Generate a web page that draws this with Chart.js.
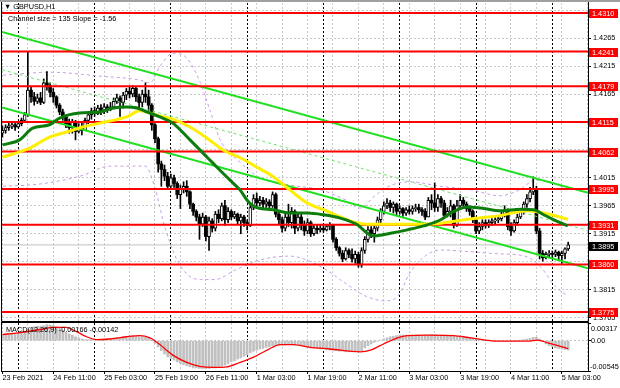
<!DOCTYPE html>
<html><head><meta charset="utf-8">
<script src="https://cdn.jsdelivr.net/npm/chart.js@4/dist/chart.umd.min.js"></script>
<style>
html,body{margin:0;padding:0;background:#fff;}
body{width:620px;height:388px;overflow:hidden;position:relative;}
#c1{position:absolute;left:0;top:0;}
#c2{position:absolute;left:0;top:321px;}
</style></head>
<body>
<canvas id="c1" width="620" height="322"></canvas>
<canvas id="c2" width="620" height="67"></canvas>
<script>
// ---------------- DATA ----------------
const symbolTitle = '\u25BC GBPUSD,H1';
const channelText = 'Channel size = 135 Slope = -1.56';
const macdTitle = 'MACD(12,26,9) -0.00166 -0.00142';
const priceLevels = [1.4310,1.4241,1.4179,1.4115,1.4062,1.3995,1.3931,1.3860,1.3775];
const bidPrice = 1.3895;
const yTicks = [1.4315,1.4265,1.4215,1.4165,1.4115,1.4065,1.4015,1.3965,1.3915,1.3865,1.3815,1.3765];
const hiddenTicks = [1.4315,1.4115,1.4065,1.3865];
const timeLabels = ['23 Feb 2021','24 Feb 11:00','25 Feb 03:00','25 Feb 19:00','26 Feb 11:00','1 Mar 03:00','1 Mar 19:00','2 Mar 11:00','3 Mar 03:00','3 Mar 19:00','4 Mar 11:00','5 Mar 03:00'];
const labelBars = [0,16,32,48,64,80,96,112,128,144,160,176];
const gridBars = [0,8,16,24,32,40,48,56,64,72,80,88,96,104,112,120,128,136,144,152,160,168,176,184];
const daySeparatorBars = [5,29,53,77,101,125,149,173];
const macdTicks = [0.00317,0,-0.00545];
const macdTickLabels = ['0.00317','0.00','-0.00545'];

const firstOpen = 1.4095;
const closes = [1.4100,1.4105,1.4108,1.4110,1.4106,1.4112,1.4118,1.4128,1.4172,1.4160,
 1.4152,1.4158,1.4150,1.4185,1.4180,1.4168,1.4160,1.4145,1.4133,1.4125,
 1.4112,1.4105,1.4115,1.4098,1.4105,1.4100,1.4118,1.4128,1.4135,1.4130,
 1.4140,1.4135,1.4142,1.4138,1.4142,1.4152,1.4158,1.4150,1.4163,1.4170,
 1.4165,1.4175,1.4160,1.4150,1.4165,1.4160,1.4145,1.4110,1.4085,1.4040,
 1.4030,1.4018,1.4000,1.4015,1.4005,1.3985,1.3995,1.4000,1.3990,1.3968,
 1.3955,1.3945,1.3932,1.3945,1.3910,1.3938,1.3925,1.3950,1.3942,1.3965,
 1.3940,1.3955,1.3945,1.3950,1.3938,1.3945,1.3935,1.3930,1.3962,1.3978,
 1.3970,1.3975,1.3968,1.3972,1.3965,1.3985,1.3950,1.3940,1.3925,1.3945,
 1.3935,1.3955,1.3925,1.3945,1.3930,1.3920,1.3935,1.3915,1.3925,1.3922,
 1.3925,1.3922,1.3928,1.3930,1.3905,1.3890,1.3880,1.3870,1.3885,1.3878,
 1.3870,1.3878,1.3860,1.3885,1.3905,1.3922,1.3915,1.3925,1.3940,1.3955,
 1.3965,1.3970,1.3962,1.3968,1.3955,1.3960,1.3952,1.3958,1.3955,1.3960,
 1.3962,1.3958,1.3955,1.3945,1.3975,1.3970,1.3962,1.3978,1.3970,1.3948,
 1.3955,1.3965,1.3930,1.3965,1.3975,1.3968,1.3960,1.3955,1.3940,1.3920,
 1.3928,1.3935,1.3930,1.3935,1.3938,1.3940,1.3942,1.3950,1.3958,1.3928,
 1.3920,1.3935,1.3945,1.3955,1.3968,1.3978,1.3990,1.3995,1.3920,1.3880,
 1.3872,1.3878,1.3880,1.3878,1.3882,1.3876,1.3880,1.3888,1.3895];
const highs = [1.4108,1.4110,1.4113,1.4115,1.4114,1.4116,1.4122,1.4132,1.4240,1.4178,
 1.4168,1.4165,1.4168,1.4192,1.4205,1.4185,1.4175,1.4162,1.4148,1.4138,
 1.4128,1.4120,1.4120,1.4118,1.4112,1.4115,1.4122,1.4132,1.4140,1.4142,
 1.4145,1.4146,1.4148,1.4146,1.4150,1.4158,1.4165,1.4162,1.4168,1.4175,
 1.4178,1.4180,1.4178,1.4165,1.4172,1.4185,1.4172,1.4148,1.4112,1.4088,
 1.4045,1.4038,1.4025,1.4022,1.4020,1.4008,1.4002,1.4008,1.4010,1.3992,
 1.3970,1.3958,1.3950,1.3952,1.3948,1.3945,1.3942,1.3955,1.3958,1.3970,
 1.3975,1.3962,1.3958,1.3955,1.3952,1.3950,1.3948,1.3940,1.3968,1.3985,
 1.3988,1.3982,1.3980,1.3978,1.3976,1.3990,1.3988,1.3955,1.3945,1.3950,
 1.3968,1.3962,1.3958,1.3952,1.3950,1.3938,1.3942,1.3938,1.3930,1.3930,
 1.3932,1.3930,1.3932,1.3935,1.3932,1.3908,1.3892,1.3885,1.3890,1.3888,
 1.3888,1.3884,1.3882,1.3890,1.3910,1.3928,1.3928,1.3930,1.3945,1.3960,
 1.3972,1.3978,1.3975,1.3972,1.3970,1.3965,1.3962,1.3962,1.3965,1.3965,
 1.3968,1.3968,1.3962,1.3960,1.3980,1.3985,1.4006,1.3985,1.3982,1.3975,
 1.3962,1.3975,1.3968,1.3975,1.3985,1.3980,1.3972,1.3965,1.3958,1.3945,
 1.3935,1.3940,1.3940,1.3940,1.3942,1.3946,1.3948,1.3955,1.3965,1.3960,
 1.3935,1.3940,1.3950,1.3960,1.3972,1.3985,1.3998,1.4017,1.4000,1.3925,
 1.3885,1.3882,1.3885,1.3884,1.3886,1.3884,1.3884,1.3890,1.3900];
const lows = [1.4088,1.4095,1.4100,1.4103,1.4100,1.4104,1.4108,1.4115,1.4125,1.4150,
 1.4145,1.4148,1.4146,1.4148,1.4172,1.4160,1.4150,1.4140,1.4128,1.4118,
 1.4105,1.4095,1.4095,1.4083,1.4095,1.4092,1.4100,1.4112,1.4120,1.4125,
 1.4128,1.4128,1.4130,1.4132,1.4135,1.4138,1.4148,1.4125,1.4140,1.4155,
 1.4158,1.4160,1.4152,1.4138,1.4142,1.4150,1.4135,1.4100,1.4078,1.4025,
 1.4000,1.4010,1.3995,1.3998,1.3998,1.3978,1.3960,1.3988,1.3982,1.3960,
 1.3948,1.3938,1.3905,1.3928,1.3902,1.3885,1.3918,1.3920,1.3935,1.3938,
 1.3930,1.3935,1.3940,1.3942,1.3932,1.3915,1.3928,1.3922,1.3928,1.3958,
 1.3965,1.3965,1.3960,1.3962,1.3958,1.3962,1.3945,1.3932,1.3918,1.3920,
 1.3928,1.3925,1.3915,1.3920,1.3922,1.3912,1.3915,1.3910,1.3912,1.3915,
 1.3918,1.3918,1.3920,1.3922,1.3900,1.3885,1.3875,1.3865,1.3868,1.3872,
 1.3864,1.3862,1.3855,1.3855,1.3880,1.3900,1.3908,1.3900,1.3920,1.3935,
 1.3950,1.3960,1.3955,1.3952,1.3948,1.3950,1.3946,1.3948,1.3950,1.3950,
 1.3955,1.3952,1.3948,1.3940,1.3945,1.3958,1.3955,1.3955,1.3962,1.3942,
 1.3945,1.3945,1.3925,1.3928,1.3960,1.3962,1.3955,1.3948,1.3935,1.3915,
 1.3915,1.3922,1.3925,1.3926,1.3930,1.3932,1.3935,1.3938,1.3945,1.3922,
 1.3912,1.3918,1.3930,1.3942,1.3950,1.3962,1.3972,1.3985,1.3915,1.3870,
 1.3866,1.3870,1.3872,1.3872,1.3874,1.3868,1.3862,1.3870,1.3885];

// moving averages as [bar, price]
const maGreen = [[0,1.4074],[5.4,1.4083],[9.5,1.4104],[14.8,1.4110],[18,1.4122],[24.3,1.4131],[30.6,1.4133],[34.7,1.4140],[39.1,1.4142],[42.3,1.4140],[45.4,1.4133],[49.5,1.4124],[53.6,1.4113],[59,1.4083],[64.4,1.4052],[67.5,1.4034],[71.6,1.4011],[74.8,1.3993],[77,1.3975],[78.5,1.3966],[80.5,1.3961],[85.2,1.3958],[90.5,1.3952],[95.9,1.3952],[101,1.3949],[106.3,1.3943],[111.7,1.3931],[114.8,1.3916],[116.7,1.3911],[122.1,1.3916],[127.4,1.3922],[132.5,1.3929],[137.9,1.3940],[141,1.3952],[146.4,1.3963],[150.5,1.3961],[156.8,1.3956],[163.1,1.3959],[167.2,1.3958],[170.3,1.3949],[173.5,1.3940],[177.9,1.3929]];
const maYellow = [[0,1.4052],[8.5,1.4068],[14.8,1.4088],[20.2,1.4097],[25.2,1.4106],[30.6,1.4113],[39.1,1.4124],[43.2,1.4135],[46.4,1.4131],[49.5,1.4126],[53.6,1.4120],[59,1.4106],[64.4,1.4086],[69.4,1.4065],[74.8,1.4051],[80.1,1.4034],[85.2,1.4017],[90.5,1.3993],[95.9,1.3970],[101,1.3958],[106.3,1.3945],[110.4,1.3936],[114.8,1.3932],[122.1,1.3932],[132.5,1.3932],[137.9,1.3934],[146.4,1.3941],[155.8,1.3947],[165.3,1.3956],[168.5,1.3954],[172.6,1.3949],[177.9,1.3941]];
// envelope bands (purple dashed)
const bandUpper = [[0.2,1.4199],[15,1.4204],[30.7,1.4197],[43.3,1.4190],[46.4,1.4185],[49.6,1.4215],[53.7,1.4238],[58.1,1.4229],[62.2,1.4186],[65.3,1.4136],[68.5,1.4083],[74.8,1.4043],[81,1.4015],[90.5,1.4002],[99.9,1.3994],[107.8,1.3976],[112.5,1.3961],[117.2,1.3983],[122,1.4001],[128.2,1.4008],[137.7,1.4000],[147.1,1.3994],[156.5,1.3983],[162.8,1.3994],[167.6,1.4011],[172.3,1.4008],[177.6,1.3994]];
const bandLower = [[0.2,1.4000],[11.8,1.4004],[24.4,1.4018],[34,1.4036],[44.9,1.4036],[48,1.3997],[51.2,1.3925],[55.9,1.3858],[62.2,1.3833],[66.9,1.3833],[73.2,1.3850],[81,1.3868],[90.5,1.3875],[99.9,1.3857],[107.8,1.3827],[114.1,1.3804],[120.4,1.3795],[124.5,1.3804],[128.2,1.3845],[133,1.3875],[137.7,1.3886],[147.1,1.3883],[156.5,1.3879],[164.4,1.3875],[169.1,1.3857],[173.8,1.3822],[177.6,1.3804]];
// regression channel
const channelUpper = [[-0.13,1.4276],[184.23,1.39884]];
const channelMiddle = [[-0.13,1.42085],[184.23,1.39209]];
const channelLower = [[-0.13,1.4141],[184.23,1.38534]];

// MACD
const macdMain = [0.0010,0.0011,0.0011,0.0012,0.0012,0.0013,0.0014,0.0015,0.0020,0.0023,
 0.0025,0.0026,0.0026,0.0027,0.0029,0.0028,0.0027,0.0025,0.0022,0.0019,
 0.0015,0.0012,0.0010,0.0007,0.0005,0.0003,0.0002,0.0002,0.0002,0.0002,
 0.0002,0.0002,0.0003,0.0003,0.0004,0.0005,0.0006,0.0006,0.0007,0.0008,
 0.0008,0.0009,0.0008,0.0007,0.0007,0.0006,0.0004,0.0000,-0.0005,-0.0011,
 -0.0018,-0.0024,-0.0029,-0.0032,-0.0035,-0.0038,-0.0041,-0.0043,-0.0045,-0.0047,
 -0.0049,-0.0049,-0.0050,-0.0050,-0.0050,-0.0050,-0.0049,-0.0049,-0.0048,-0.0046,
 -0.0044,-0.0041,-0.0038,-0.0036,-0.0033,-0.0031,-0.0028,-0.0026,-0.0022,-0.0019,
 -0.0017,-0.0015,-0.0014,-0.0012,-0.0011,-0.0009,-0.0009,-0.0008,-0.0008,-0.0007,
 -0.0007,-0.0007,-0.0008,-0.0008,-0.0009,-0.0010,-0.0011,-0.0013,-0.0013,-0.0014,
 -0.0015,-0.0015,-0.0016,-0.0017,-0.0017,-0.0018,-0.0019,-0.0019,-0.0020,-0.0020,
 -0.0020,-0.0020,-0.0020,-0.0018,-0.0013,-0.0009,-0.0006,-0.0003,-0.0001,0.0001,
 0.0003,0.0005,0.0007,0.0008,0.0009,0.0010,0.0010,0.0010,0.0010,0.0010,
 0.0010,0.0010,0.0010,0.0010,0.0010,0.0011,0.0011,0.0010,0.0010,0.0010,
 0.0009,0.0009,0.0008,0.0008,0.0008,0.0007,0.0006,0.0005,0.0004,0.0003,
 0.0002,0.0002,0.0001,0.0001,0.0000,0.0000,-0.0001,-0.0001,-0.0001,-0.0001,
 -0.0001,-0.0001,0.0000,0.0001,0.0002,0.0003,0.0004,0.0006,0.0006,0.0003,
 -0.0002,-0.0006,-0.0009,-0.0011,-0.0013,-0.0014,-0.0015,-0.0016,-0.00166];
const macdSignal = [[0,0.0011],[5,0.0014],[12,0.0020],[16,0.0024],[20,0.0024],[23,0.0017],[26.5,0.0007],[29.6,0.0002],[33.7,0.0003],[39,0.0007],[43.2,0.0009],[46.4,0.0005],[49.5,-0.0007],[53.6,-0.0026],[58,-0.0039],[62,-0.0046],[66.2,-0.0048],[70.7,-0.0047],[74.8,-0.0039],[78.9,-0.0030],[83.3,-0.0017],[87.4,-0.0007],[91.5,-0.0007],[96.8,-0.0012],[103,-0.0015],[112.6,-0.0020],[115.8,-0.0017],[119.9,-0.0006],[124.3,0.0005],[127.4,0.0009],[133.7,0.0010],[142,0.0009],[147.3,0.0005],[155.8,-0.0001],[165.3,-0.0001],[168.5,0.0001],[171.6,-0.0004],[178,-0.00142]];

// ---------------- BUILD ----------------
const X_MIN = -0.13, X_MAX = 184.23;
const P_MAX = 1.43279, P_MIN = 1.37589;
const M_MAX = 0.00317, M_MIN = -0.00545;
const FONT = "'Liberation Sans', Arial, sans-serif";
const FS = 7.3;

const opens = closes.map((c,i)=> i===0 ? firstOpen : closes[i-1]);
const wickData = closes.map((c,i)=>({x:i, y:[lows[i], highs[i]]}));
const bullData = [], bearData = [];
closes.forEach((c,i)=>{ const o = opens[i]; (c>=o ? bullData : bearData).push({x:i, y:[o,c]}); });
const pts = a => a.map(p=>({x:p[0], y:p[1]}));
const hline = v => [{x:X_MIN,y:v},{x:X_MAX,y:v}];

function gridAxis(ticks, color, dash){
  return {type:'linear', position:'bottom', min:X_MIN, max:X_MAX, offset:false,
    afterBuildTicks: s=>{ s.ticks = ticks.map(v=>({value:v})); },
    ticks:{display:false}, grid:{color:color, lineWidth:1, drawTicks:false, offset:false},
    border:{display:false, dash:dash},
    afterFit: s=>{ s.height = 0; s.paddingLeft = 0; s.paddingRight = 0; }};
}

const mainDeco = {
  id:'mainDeco',
  afterDraw(chart){
    const {ctx, scales:{y}} = chart;
    ctx.save();
    ctx.fillStyle = '#a0a0a0'; ctx.fillRect(0,0,620,2);
    ctx.strokeStyle = '#000'; ctx.lineWidth = 1;
    ctx.beginPath();
    ctx.moveTo(1.5,2); ctx.lineTo(1.5,321.5);
    ctx.lineTo(588.5,321.5); ctx.lineTo(588.5,2);
    ctx.stroke();
    ctx.font = FS+'px '+FONT; ctx.textBaseline = 'middle'; ctx.textAlign = 'left';
    priceLevels.forEach(v=>{
      const yy = Math.round(y.getPixelForValue(v));
      ctx.fillStyle = '#ff0000'; ctx.fillRect(589, yy-4, 29, 9);
      ctx.fillStyle = '#ffffff'; ctx.fillText(v.toFixed(4), 592, yy+0.5);
    });
    const by = Math.round(y.getPixelForValue(bidPrice));
    ctx.fillStyle = '#000'; ctx.fillRect(589, by-3, 29, 9);
    ctx.fillStyle = '#fff'; ctx.fillText(bidPrice.toFixed(4), 592, by+1.5);
    ctx.fillStyle = '#000';
    ctx.fillText(symbolTitle, 4, 7);
    ctx.fillText(channelText, 8, 18.5);
    ctx.restore();
  }
};

new Chart(document.getElementById('c1'), {
  type:'line',
  data:{datasets:[
    {type:'line', data:hline(bidPrice), borderColor:'#c0c0c0', borderWidth:1, pointRadius:0, order:20},
    {type:'line', data:pts(bandUpper), borderColor:'#c89be8', borderWidth:1, borderDash:[3,3], pointRadius:0, cubicInterpolationMode:'monotone', order:19},
    {type:'line', data:pts(bandLower), borderColor:'#c89be8', borderWidth:1, borderDash:[3,3], pointRadius:0, cubicInterpolationMode:'monotone', order:19},
    {type:'bar', data:wickData, backgroundColor:'#000', barThickness:1, grouped:false, order:15},
    {type:'bar', data:bearData, backgroundColor:'#000', borderColor:'#000', borderWidth:0, barThickness:3, grouped:false, minBarLength:1, order:14},
    {type:'bar', data:bullData, backgroundColor:'#ffffff', borderColor:'#000', borderWidth:1, borderSkipped:false, barThickness:3, grouped:false, minBarLength:1, order:14},
    {type:'line', data:pts(channelMiddle), borderColor:'#70e070', borderWidth:1, borderDash:[3,3], pointRadius:0, order:10},
    {type:'line', data:pts(channelUpper), borderColor:'#1ee01e', borderWidth:2, pointRadius:0, order:9},
    {type:'line', data:pts(channelLower), borderColor:'#1ee01e', borderWidth:2, pointRadius:0, order:9},
    ...priceLevels.map(v=>({type:'line', data:hline(v), borderColor:'#ff0000', borderWidth:2, pointRadius:0, order:6})),
    {type:'line', data:pts(maYellow), borderColor:'#ffee00', borderWidth:3, pointRadius:0, cubicInterpolationMode:'monotone', order:3},
    {type:'line', data:pts(maGreen), borderColor:'#0c7d0c', borderWidth:3, pointRadius:0, cubicInterpolationMode:'monotone', order:2}
  ]},
  options:{
    responsive:false, animation:false, devicePixelRatio:1,
    layout:{padding:{left:2, top:3, right:0, bottom:1}},
    plugins:{legend:{display:false}, tooltip:{enabled:false}},
    scales:{
      x: gridAxis(gridBars, '#c8c8c8', [2,2]),
      xs: gridAxis(daySeparatorBars, '#000000', [2,2]),
      y:{type:'linear', position:'right', min:P_MIN, max:P_MAX,
        afterBuildTicks: s=>{ s.ticks = yTicks.map(v=>({value:v})); },
        ticks:{color:'#000', font:{family:FONT, size:FS}, padding:2,
          callback: v => hiddenTicks.some(h=>Math.abs(h-v)<1e-7) ? '' : v.toFixed(4)},
        grid:{color:'#c8c8c8', tickColor:'#000', tickLength:3, tickWidth:1},
        border:{display:false, dash:[2,2]},
        afterFit: s=>{ s.width = 32; s.paddingTop = 0; s.paddingBottom = 0; }}
    }
  },
  plugins:[mainDeco]
});

const macdDeco = {
  id:'macdDeco',
  afterDraw(chart){
    const {ctx, scales:{y}} = chart;
    ctx.save();
    ctx.strokeStyle = '#000'; ctx.lineWidth = 1;
    ctx.strokeRect(1.5, 1.5, 587, 49);
    ctx.font = FS+'px '+FONT; ctx.textBaseline = 'middle'; ctx.fillStyle = '#000';
    ctx.fillText(macdTitle, 6, 9);
    const offs = [6, 0, -4];
    macdTicks.forEach((v,k)=>{
      ctx.fillText(macdTickLabels[k], k===2 ? 590 : 591, y.getPixelForValue(v)+offs[k]);
    });
    ctx.restore();
  }
};

new Chart(document.getElementById('c2'), {
  type:'line',
  data:{datasets:[
    {type:'bar', data:macdMain.map((v,i)=>({x:i, y:v})), backgroundColor:'#c0c0c0', barThickness:2, grouped:false, order:5},
    {type:'line', data:pts(macdSignal), borderColor:'#ff0000', borderWidth:1.3, pointRadius:0, cubicInterpolationMode:'monotone', order:1}
  ]},
  options:{
    responsive:false, animation:false, devicePixelRatio:1,
    layout:{padding:{left:2, top:2, right:0, bottom:0}},
    plugins:{legend:{display:false}, tooltip:{enabled:false}},
    scales:{
      x:{type:'linear', position:'bottom', min:X_MIN, max:X_MAX, offset:false,
        afterBuildTicks: s=>{ s.ticks = labelBars.map(v=>({value:v})); },
        ticks:{color:'#000', font:{family:FONT, size:FS}, padding:0, align:'start', maxRotation:0, minRotation:0, autoSkip:false,
          callback: v => { const k = labelBars.indexOf(v); return k>=0 ? timeLabels[k] : ''; }},
        grid:{drawOnChartArea:false, drawTicks:true, tickLength:3, tickColor:'#000', offset:false},
        border:{display:false},
        afterFit: s=>{ s.height = 17; s.paddingLeft = 0; s.paddingRight = 0; }},
      xg: gridAxis(gridBars, '#c8c8c8', [2,2]),
      xs: gridAxis(daySeparatorBars, '#000000', [2,2]),
      y:{type:'linear', position:'right', min:M_MIN, max:M_MAX,
        afterBuildTicks: s=>{ s.ticks = macdTicks.map(v=>({value:v})); },
        ticks:{display:false},
        grid:{color: c => (c.tick && c.tick.value===0) ? '#c8c8c8' : 'rgba(0,0,0,0)', tickColor:'#000', tickLength:3},
        border:{display:false, dash:[2,2]},
        afterFit: s=>{ s.width = 32; s.paddingTop = 0; s.paddingBottom = 0; }}
    }
  },
  plugins:[macdDeco]
});
</script>
</body></html>
